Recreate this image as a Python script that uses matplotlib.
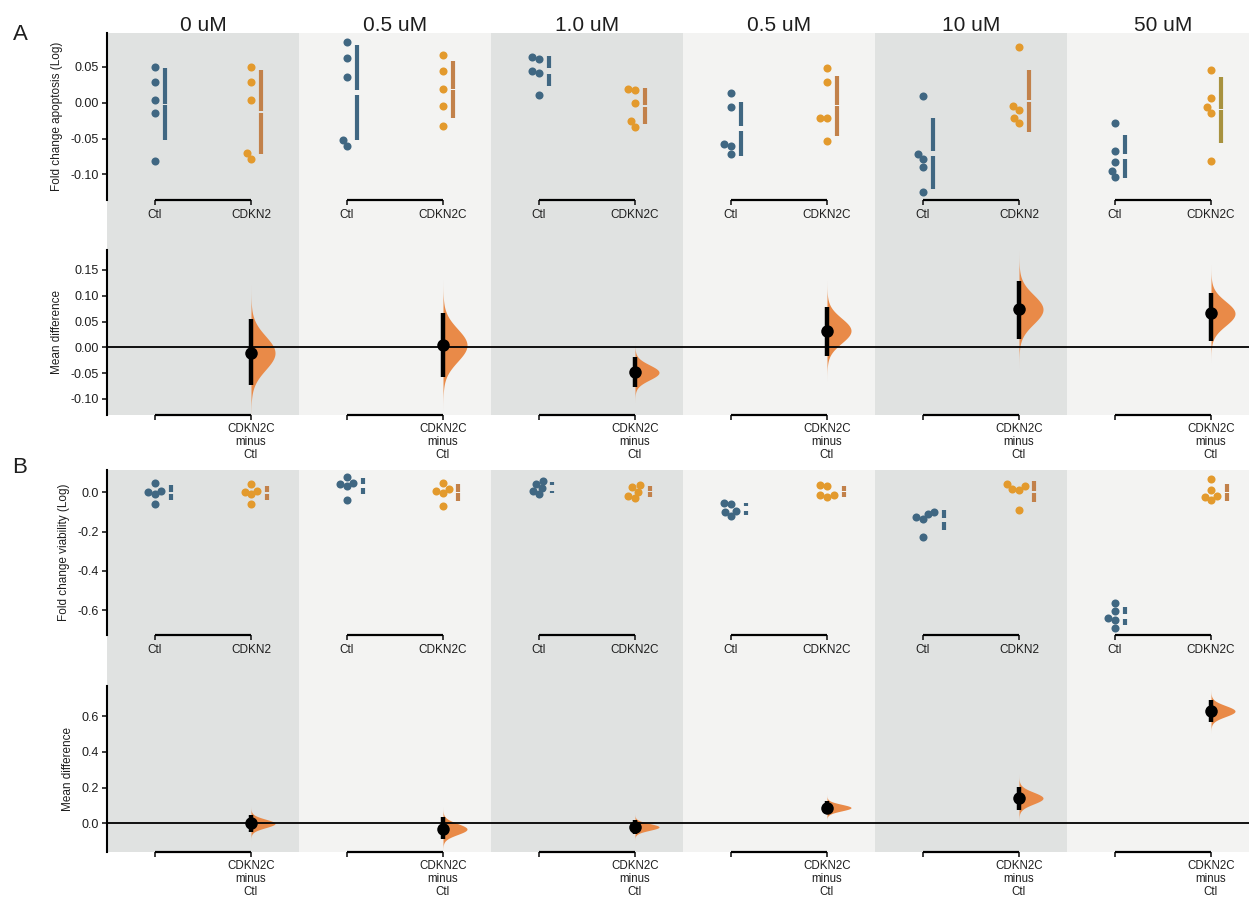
import numpy as np
import matplotlib
matplotlib.use("Agg")
import matplotlib.pyplot as plt
from matplotlib.patches import Rectangle
from matplotlib.transforms import blended_transform_factory

plt.rcParams['font.family'] = ['Liberation Sans', 'DejaVu Sans']

# ---------------- data ----------------
titles = ["0 uM", "0.5 uM", "1.0 uM", "0.5 uM", "10 uM", "50 uM"]
ctl_label = "Ctl"
trt_labels = ["CDKN2", "CDKN2C", "CDKN2C", "CDKN2C", "CDKN2", "CDKN2C"]
diff_label = "CDKN2C\nminus\nCtl"

# Panel A: fold change apoptosis (log)
apop_ctl = [
    [0.050, 0.029, 0.004, -0.014, -0.081],
    [0.084, 0.062, 0.036, -0.052, -0.060],
    [0.063, 0.060, 0.044, 0.041, 0.011],
    [0.0135, -0.006, -0.058, -0.061, -0.071],
    [0.009, -0.072, -0.079, -0.090, -0.124],
    [-0.028, -0.068, -0.082, -0.095, -0.104],
]
apop_trt = [
    [0.050, 0.028, 0.004, -0.070, -0.078],
    [0.066, 0.044, 0.019, -0.005, -0.033],
    [0.019, 0.018, -0.001, -0.026, -0.034],
    [0.048, 0.029, -0.022, -0.022, -0.054],
    [0.078, -0.005, -0.010, -0.022, -0.029],
    [0.046, 0.006, -0.006, -0.014, -0.081],
]
apop_ci_lo = [-0.074, -0.057, -0.076, -0.017, 0.017, 0.013]
apop_ci_hi = [0.054, 0.067, -0.019, 0.078, 0.128, 0.106]

# Panel B: fold change viability (log)
viab_ctl = [
    [0.045, 0.008, 0.003, -0.008, -0.057],
    [0.078, 0.047, 0.040, 0.033, -0.038],
    [0.058, 0.042, 0.022, 0.008, -0.010],
    [-0.053, -0.057, -0.094, -0.099, -0.119],
    [-0.099, -0.110, -0.124, -0.137, -0.226],
    [-0.565, -0.604, -0.641, -0.650, -0.689],
]
viab_trt = [
    [0.043, 0.008, 0.004, -0.010, -0.058],
    [0.045, 0.018, 0.008, -0.004, -0.068],
    [0.036, 0.027, 0.003, -0.018, -0.030],
    [0.037, 0.031, -0.013, -0.015, -0.022],
    [0.042, 0.032, 0.017, 0.010, -0.090],
    [0.066, 0.012, -0.019, -0.022, -0.039],
]
viab_ci_lo = [-0.049, -0.086, -0.058, 0.050, 0.073, 0.568]
viab_ci_hi = [0.045, 0.035, 0.017, 0.123, 0.203, 0.689]

# ---------------- style ----------------
BLUE = '#406782'
ORANGE = '#e39a2d'
VIOLIN = '#e98a48'
DARK_BG = '#e0e2e1'
LIGHT_BG = '#f3f3f2'
TXT = '#1e1e1e'
trt_bar_A = ['#c2814a'] * 5 + ['#a8923f']
trt_bar_B = ['#c2814a'] * 6
ctl_gap_A = [1.0, 5.0, 5.5, 5.0, 5.0, 5.0]
ctl_gap_B = [2.0, 4.0, 6.0, 5.0, 4.0, 5.0]
TRT_GAP = 1.5

W, H = 1249, 899
fig = plt.figure(figsize=(W / 100, H / 100), dpi=100)
PX_PER_X = 96.0
XLIM = (-0.5, (W - 155) / PX_PER_X)
DOT_D = 7.0


def add_ax(top, bottom, left=107, right=W):
    ax = fig.add_axes([left / W, 1 - bottom / H, (right - left) / W, (bottom - top) / H])
    ax.set_facecolor('none')
    ax.set_xlim(XLIM)
    for s in ['top', 'right', 'bottom']:
        ax.spines[s].set_visible(False)
    ax.spines['left'].set_linewidth(1.5)
    ax.tick_params(axis='both', labelsize=9, colors=TXT, width=1.2, length=3.5)
    ax.tick_params(axis='y', pad=2.5)
    ax.tick_params(axis='x', labelsize=8.5, pad=3.0)
    return ax, bottom - top


def shade(ax, top_px, bottom_px):
    tr = blended_transform_factory(ax.transData, fig.transFigure)
    for k in range(6):
        col = DARK_BG if k % 2 == 0 else LIGHT_BG
        r = Rectangle((2 * k - 0.5, 1 - bottom_px / H), 2, (bottom_px - top_px) / H,
                      transform=tr, facecolor=col, edgecolor='none', zorder=-10)
        fig.add_artist(r)


def brackets(ax):
    tr = blended_transform_factory(ax.transData, ax.transAxes)
    for k in range(6):
        ax.plot([2 * k, 2 * k + 1], [0, 0], color='black', lw=1.6, transform=tr,
                clip_on=False, solid_capstyle='butt', zorder=5)


def swarm(ypx, d):
    n = len(ypx)
    xs = np.zeros(n)
    placed = []
    for i in np.argsort(ypx):
        y = ypx[i]
        cands = [0.0]
        for j in placed:
            dy = abs(y - ypx[j])
            if dy < d:
                dx = np.sqrt(d * d - dy * dy)
                cands += [xs[j] - dx, xs[j] + dx]
        cands = sorted(cands, key=lambda c: (abs(c), c))
        for c in cands:
            if all((c - xs[j]) ** 2 + (y - ypx[j]) ** 2 >= d * d - 1e-6 for j in placed):
                xs[i] = c
                break
        placed.append(i)
    return xs


def draw_swarm(top, bottom, ctl, trt, ylim, yticks, fmt, ylabel, bar_cols, ctl_gaps):
    ax, hpx = add_ax(top, bottom)
    ax.set_ylim(ylim)
    ypp = hpx / (ylim[1] - ylim[0])
    for k in range(6):
        groups = [(ctl[k], BLUE, BLUE, ctl_gaps[k]), (trt[k], ORANGE, bar_cols[k], TRT_GAP)]
        for j, (vals, dc, bc, gap) in enumerate(groups):
            vals = np.array(vals)
            pos = 2 * k + j
            offs = swarm(vals * ypp, DOT_D)
            ax.plot(pos + offs / PX_PER_X, vals, 'o', ms=5.8, mew=0, color=dc, zorder=3)
            m = vals.mean()
            sd = vals.std(ddof=1)
            bx = pos + (offs.max() + 3.8 + 6.0) / PX_PER_X
            g = gap / 2 / ypp
            ax.vlines([bx, bx], [m - sd, m + g], [m - g, m + sd], color=bc, lw=3.0, zorder=3)
    ax.set_yticks(yticks)
    ax.set_yticklabels([fmt % v if abs(v) > 1e-12 else fmt % 0 for v in yticks])
    ax.set_ylabel(ylabel, fontsize=8.5, color=TXT, labelpad=5)
    ax.set_xticks(range(12))
    labs = []
    for k in range(6):
        labs += [ctl_label, trt_labels[k]]
    ax.set_xticklabels(labs)
    brackets(ax)
    return ax


def draw_diff(top, bottom, ctl, trt, lo, hi, ylim, yticks, fmt):
    ax, hpx = add_ax(top, bottom)
    ax.set_ylim(ylim)
    for k in range(6):
        pos = 2 * k + 1
        d = np.mean(trt[k]) - np.mean(ctl[k])
        sig = (hi[k] - lo[k]) / 3.92
        yy = np.linspace(d - 4 * sig, d + 4 * sig, 300)
        dens = np.exp(-0.5 * ((yy - d) / sig) ** 2)
        ax.fill_betweenx(yy, pos, pos + 0.25 * dens, color=VIOLIN, lw=0, zorder=2)
        ax.vlines(pos, lo[k], hi[k], color='black', lw=3.2, zorder=4)
        ax.plot(pos, d, 'o', color='black', ms=9, mew=0, zorder=5)
    ax.axhline(0, color='black', lw=1.3, zorder=3)
    ax.set_yticks(yticks)
    ax.set_yticklabels([fmt % v if abs(v) > 1e-12 else fmt % 0 for v in yticks])
    ax.set_ylabel("Mean difference", fontsize=8.5, color=TXT, labelpad=5)
    ax.set_xticks(range(12))
    labs = []
    for k in range(6):
        labs += ["", diff_label]
    ax.set_xticklabels(labs, linespacing=1.15, fontsize=8.3)
    ax.tick_params(axis='x', pad=2.0)
    brackets(ax)
    return ax


# Panel A
axA1 = draw_swarm(33, 200, apop_ctl, apop_trt, (-0.1355, 0.0968),
                  [-0.10, -0.05, 0.00, 0.05], '%.2f', "Fold change apoptosis (Log)",
                  trt_bar_A, ctl_gap_A)
axA2 = draw_diff(250, 415, apop_ctl, apop_trt, apop_ci_lo, apop_ci_hi, (-0.1312, 0.1886),
                 [-0.10, -0.05, 0.00, 0.05, 0.10, 0.15], '%.2f')
shade(axA1, 33, 415)

# Panel B
axB1 = draw_swarm(470, 635, viab_ctl, viab_trt, (-0.7255, 0.1134),
                  [-0.6, -0.4, -0.2, 0.0], '%.1f', "Fold change viability (Log)",
                  trt_bar_B, ctl_gap_B)
axB2 = draw_diff(686, 852, viab_ctl, viab_trt, viab_ci_lo, viab_ci_hi, (-0.161, 0.770),
                 [0.0, 0.2, 0.4, 0.6], '%.1f')
shade(axB1, 470, 852)

# titles
trT = blended_transform_factory(axA1.transData, fig.transFigure)
for k, t in enumerate(titles):
    fig.text(2 * k + 0.5, 1 - 31 / H, t, transform=trT, ha='center', va='baseline',
             fontsize=15, color=TXT)

fig.text(20 / W, 1 - 35 / H, "A", ha='center', va='center', fontsize=16, color=TXT)
fig.text(20 / W, 1 - 468 / H, "B", ha='center', va='center', fontsize=16, color=TXT)

fig.savefig('out.png', dpi=100)
